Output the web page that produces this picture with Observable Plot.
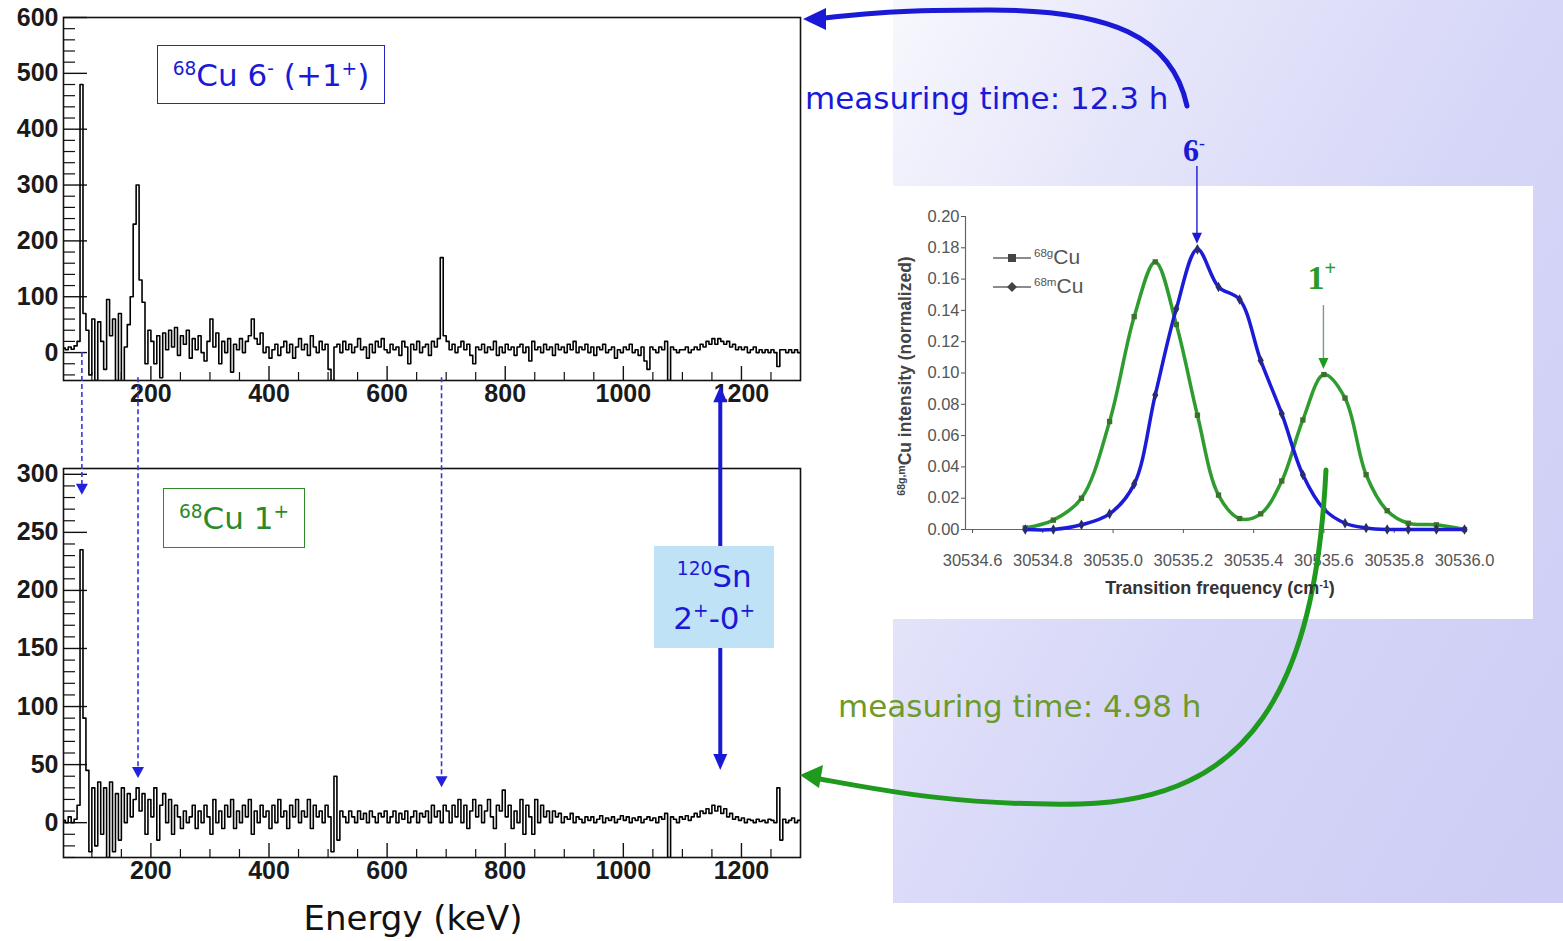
<!DOCTYPE html>
<html>
<head>
<meta charset="utf-8">
<script src="https://cdn.jsdelivr.net/npm/d3@7"></script>
<script src="https://cdn.jsdelivr.net/npm/@observablehq/plot@0.6"></script>
<style>
html,body{margin:0;padding:0;background:#fff;}
#root{position:relative;width:1563px;height:941px;overflow:hidden;background:#fff;}
.t{position:absolute;white-space:nowrap;line-height:1;}
.t sup{font-size:0.6em;vertical-align:0.62em;line-height:0;}
.comic{font-family:"DejaVu Sans",sans-serif;}
</style>
</head>
<body>
<div id="root"></div>
<script>
// ---------------- DATA ----------------
// gamma spectra: counts per 5 keV bin, bins start at 50 keV
const binStart = 50, binWidth = 5;
const countsTop = [
  8,5,10,6,12,20,480,70,40,-40,
  60,-50,55,20,-30,95,30,60,-50,70,
  -60,10,50,100,230,300,130,90,-20,40,
  20,-20,30,-45,35,5,40,10,45,-5,
  30,15,40,-10,25,5,30,0,-15,20,
  60,10,35,-20,20,0,25,-35,15,5,
  25,0,20,30,60,25,15,35,0,10,
  -10,5,15,-5,10,20,0,15,-10,10,
  25,5,15,-5,30,10,0,20,5,15,
  -30,-50,10,15,0,20,5,15,0,10,
  25,5,10,-10,15,0,20,10,25,5,
  0,15,5,10,-5,20,10,-20,15,5,
  20,0,10,15,-5,20,10,25,170,30,
  20,5,15,0,10,20,5,15,-5,-20,
  10,5,15,0,10,5,20,-5,10,0,
  15,5,10,-5,10,15,0,10,-15,20,
  5,10,0,15,5,10,-5,15,5,10,
  0,15,5,20,0,10,5,15,0,10,
  -5,10,5,15,0,5,10,-10,5,0,
  10,5,15,0,5,-5,10,-15,-30,10,
  5,0,10,5,20,-50,10,5,0,5,
  5,10,0,5,10,5,15,10,20,15,
  25,15,25,20,15,20,10,15,5,10,
  5,10,0,5,10,0,5,0,5,0,
  5,0,-25,5,5,0,5,0,5,0
];
const countsBottom = [
  2,0,5,0,3,15,235,90,45,-25,
  30,-20,35,-10,30,-30,35,-25,25,-15,
  30,0,25,5,20,30,10,25,-10,20,
  5,30,-15,15,25,0,20,-10,15,5,
  -5,10,0,5,15,-5,10,0,15,5,
  -10,20,0,10,-5,15,5,20,-5,10,
  0,15,5,20,-10,10,0,15,5,10,
  -5,15,0,20,5,10,-5,15,5,20,
  0,10,5,20,-5,15,5,10,0,15,
  5,-25,40,-15,10,5,0,10,5,0,
  10,3,8,0,10,5,0,8,5,10,
  0,5,10,0,8,3,10,0,5,10,
  0,8,5,10,0,15,5,10,0,15,
  10,0,15,5,20,0,15,-5,10,20,
  5,15,0,10,20,5,-5,15,10,28,
  5,15,-5,10,0,20,-10,15,5,-10,
  20,0,15,5,10,0,10,5,8,0,
  5,3,8,0,5,3,0,5,2,5,
  0,3,6,0,4,2,5,0,3,6,
  2,5,0,4,2,5,0,3,5,2,
  4,0,5,3,8,-30,5,3,0,5,
  3,6,2,5,8,5,10,8,12,8,
  15,10,14,8,12,5,8,3,5,2,
  4,0,3,2,0,3,1,2,0,3,
  2,0,30,-15,3,0,2,4,0,2
];
const energyDomain = [52, 1300];
const energyLabels = [200, 400, 600, 800, 1000, 1200];
const energyMinor = [100,150,250,300,350,450,500,550,650,700,750,850,900,950,1050,1100,1150,1250];
const topYDomain = [-50, 600];
const topYLabels = [0, 100, 200, 300, 400, 500, 600];
const bottomYDomain = [-30, 305];
const bottomYLabels = [0, 50, 100, 150, 200, 250, 300];

// inset: laser scan
const freqs = [30534.75,30534.83,30534.91,30534.99,30535.06,30535.12,30535.18,30535.24,30535.30,30535.36,
               30535.42,30535.48,30535.54,30535.60,30535.66,30535.72,30535.78,30535.84,30535.92,30536.00];
const cu68g = [0.001,0.006,0.020,0.069,0.136,0.171,0.131,0.073,0.022,0.007,
               0.010,0.031,0.070,0.099,0.084,0.035,0.012,0.004,0.003,0.000];
const cu68m = [0.000,0.000,0.003,0.010,0.029,0.086,0.141,0.179,0.155,0.147,
               0.108,0.074,0.035,0.013,0.004,0.001,0.000,0.000,0.000,0.000];
const freqDomain = [30534.58, 30536.0];
const freqLabels = [30534.6,30534.8,30535.0,30535.2,30535.4,30535.6,30535.8,30536.0];
const intensityLabels = [0,0.02,0.04,0.06,0.08,0.10,0.12,0.14,0.16,0.18,0.20];

// gamma lines marked between the spectra (keV)
const markedLines = [
  {energy: 84, fromTop: 0, toBottom: 282},
  {energy: 179, fromTop: -45, toBottom: 38},
  {energy: 693, fromTop: -45, toBottom: 30}
];
const snLine = {energy: 1165, fromTop: -61, toBottom: 45};

// ---------------- LAYOUT ----------------
const root = document.getElementById("root");
function div(style, html) {
  const d = document.createElement("div");
  Object.assign(d.style, {position: "absolute"}, style);
  if (html != null) d.innerHTML = html;
  root.appendChild(d);
  return d;
}
// lavender panel and white inset background
div({left: "893px", top: "0px", width: "670px", height: "903px",
     background: "linear-gradient(120deg, #f7f7fd 0%, #e4e4fa 28%, #d6d6f8 55%, #cdcdf5 100%)"});
div({left: "893px", top: "186px", width: "640px", height: "433px", background: "#fff"});

function spectrum(counts, yDomain, yLabels, minorStep, W, H, m) {
  const data = counts.map((c, i) => ({e: binStart + i * binWidth, c}));
  data.push({e: binStart + counts.length * binWidth, c: counts[counts.length - 1]});
  const kx = (energyDomain[1] - energyDomain[0]) / (W - m.left - m.right);
  const ky = (yDomain[1] - yDomain[0]) / (H - m.top - m.bottom);
  const yMinor = d3.range(Math.ceil(yDomain[0] / minorStep) * minorStep, yDomain[1], minorStep)
    .filter(v => !yLabels.includes(v));
  return Plot.plot({
    width: W, height: H,
    marginTop: m.top, marginRight: m.right, marginBottom: m.bottom, marginLeft: m.left,
    x: {domain: energyDomain},
    y: {domain: yDomain},
    style: {background: "transparent", fontFamily: "'Liberation Sans', Arial, sans-serif",
            fontSize: "25px", fontWeight: "bold", color: "#1a1a1a", overflow: "visible"},
    marks: [
      Plot.ruleY(yLabels, {x1: energyDomain[0], x2: energyDomain[0] + 24 * kx, stroke: "#111", strokeWidth: 1.4}),
      Plot.ruleY(yMinor, {x1: energyDomain[0], x2: energyDomain[0] + 12 * kx, stroke: "#111", strokeWidth: 1.2}),
      Plot.ruleX(energyLabels, {y1: yDomain[0], y2: yDomain[0] + 14 * ky, stroke: "#111", strokeWidth: 1.4}),
      Plot.ruleX(energyMinor, {y1: yDomain[0], y2: yDomain[0] + 8 * ky, stroke: "#111", strokeWidth: 1.2}),
      Plot.line(data, {x: "e", y: "c", curve: "step-after", stroke: "#000", strokeWidth: 1.6, clip: true}),
      Plot.frame({stroke: "#111", strokeWidth: 1.6}),
      Plot.axisY({ticks: yLabels, tickFormat: d => String(d), tickSize: 0, tickPadding: 5, label: null}),
      Plot.axisX({ticks: energyLabels, tickFormat: d => String(d), tickSize: 0, tickPadding: 4, label: null})
    ]
  });
}

const topPlot = spectrum(countsTop, topYDomain, topYLabels, 20, 820, 415,
  {top: 17, right: 20, bottom: 35, left: 63});
Object.assign(topPlot.style, {position: "absolute", left: "0px", top: "0px"});
root.appendChild(topPlot);

const bottomTop = 440;
const bottomPlot = spectrum(countsBottom, bottomYDomain, bottomYLabels, 10, 820, 450,
  {top: 28, right: 20, bottom: 33, left: 63});
Object.assign(bottomPlot.style, {position: "absolute", left: "0px", top: bottomTop + "px"});
root.appendChild(bottomPlot);

// inset
const insetLeft = 893, insetTop = 186;
const insetData = freqs.map((f, i) => ({f, g: cu68g[i], m: cu68m[i]}));
const insetPlot = Plot.plot({
  width: 640, height: 433, marginTop: 30, marginRight: 69, marginBottom: 90, marginLeft: 72,
  x: {domain: freqDomain},
  y: {domain: [0, 0.2]},
  style: {background: "transparent", fontFamily: "'Liberation Sans', Arial, sans-serif",
          fontSize: "16.5px", color: "#555", overflow: "visible"},
  marks: [
    Plot.ruleY([0], {stroke: "#666", strokeWidth: 1.2}),
    Plot.ruleX([freqDomain[0]], {stroke: "#666", strokeWidth: 1.2}),
    Plot.axisY({ticks: intensityLabels, tickFormat: d3.format(".2f"), tickSize: 4, tickPadding: 2, label: null}),
    Plot.axisX({ticks: freqLabels, tickFormat: d3.format(".1f"), tickSize: 4, tickPadding: 21, label: null}),
    Plot.line(insetData, {x: "f", y: "g", curve: "catmull-rom", stroke: "#2f9c2f", strokeWidth: 3.5}),
    Plot.line(insetData, {x: "f", y: "m", curve: "catmull-rom", stroke: "#1c1cd8", strokeWidth: 3.5}),
    Plot.dot(insetData, {x: "f", y: "g", symbol: "square", r: 3, fill: "#3d6f2d"}),
    Plot.dot(insetData, {x: "f", y: "m", symbol: "diamond", r: 3.2, fill: "#2b2b70"})
  ]
});
Object.assign(insetPlot.style, {position: "absolute", left: insetLeft + "px", top: insetTop + "px"});
root.appendChild(insetPlot);

// ---------------- ANNOTATIONS ----------------
const xE = topPlot.scale("x"), yT = topPlot.scale("y"), yB = bottomPlot.scale("y");
const xF = insetPlot.scale("x"), yI = insetPlot.scale("y");
const ov = d3.select(root).append("svg")
  .attr("width", 1563).attr("height", 941)
  .style("position", "absolute").style("left", "0px").style("top", "0px");

const blue = "#1a1ad6", green = "#1f9a1f";
const sup = s => `<sup style='font-size:0.6em;vertical-align:0.6em'>${s}</sup>`;
// dashed marker arrows
for (const m of markedLines) {
  const x = xE.apply(m.energy);
  const y1 = yT.apply(m.fromTop), y2 = yB.apply(m.toBottom) + bottomTop;
  ov.append("line").attr("x1", x).attr("x2", x).attr("y1", y1).attr("y2", y2 - 8)
    .attr("stroke", "#3535e0").attr("stroke-width", 1.6).attr("stroke-dasharray", "5,3");
  ov.append("path").attr("d", `M${x - 6},${y2 - 11}L${x + 6},${y2 - 11}L${x},${y2}Z`).attr("fill", "#2222dd");
}
// 120Sn double arrow
{
  const x = xE.apply(snLine.energy);
  const yTop = yT.apply(snLine.fromTop), yBot = yB.apply(snLine.toBottom) + bottomTop;
  ov.append("line").attr("x1", x).attr("x2", x).attr("y1", yTop + 14).attr("y2", yBot - 14)
    .attr("stroke", blue).attr("stroke-width", 4);
  ov.append("path").attr("d", `M${x - 7},${yTop + 16}L${x + 7},${yTop + 16}L${x},${yTop}Z`).attr("fill", blue);
  ov.append("path").attr("d", `M${x - 7},${yBot - 16}L${x + 7},${yBot - 16}L${x},${yBot}Z`).attr("fill", blue);
  div({left: (x - 66) + "px", top: "546px", width: "120px", height: "102px", background: "#bfe2f7"},
    `<div class="t comic" style="left:0;width:120px;top:15px;text-align:center;font-size:31px;color:${blue}"><sup>120</sup>Sn</div>
     <div class="t comic" style="left:0;width:120px;top:57px;text-align:center;font-size:31px;color:${blue}">2<sup>+</sup>-0<sup>+</sup></div>`);
}
// curved arrows
ov.append("path").attr("d", "M1187,106 C1172,36 1110,10 990,10 S850,16 824,18")
  .attr("fill", "none").attr("stroke", blue).attr("stroke-width", 5).attr("stroke-linecap", "round");
ov.append("path").attr("d", "M803,19 L826,8 L826,30 Z").attr("fill", blue);
ov.append("path").attr("d", "M1326,470 C1315,690 1250,800 1080,804 C960,806 880,790 820,779")
  .attr("fill", "none").attr("stroke", green).attr("stroke-width", 5).attr("stroke-linecap", "round");
ov.append("path").attr("d", "M800,775 L823,765 L819,788 Z").attr("fill", green);

// inset peak arrows
{
  const xb = xF.apply(30535.24) + insetLeft, yb = yI.apply(0.181) + insetTop - 2;
  ov.append("line").attr("x1", xb).attr("x2", xb).attr("y1", 166).attr("y2", yb - 8).attr("stroke", blue).attr("stroke-width", 1.4);
  ov.append("path").attr("d", `M${xb - 5},${yb - 11}L${xb + 5},${yb - 11}L${xb},${yb}Z`).attr("fill", blue);
  div({left: (xb - 14) + "px", top: "134px", fontFamily: "'Liberation Serif',serif", fontWeight: "bold", fontSize: "32px", color: blue, lineHeight: "1"}, "6<sup style='font-size:0.55em;vertical-align:0.7em'>-</sup>");
  const xg = xF.apply(30535.60) + insetLeft, yg = yI.apply(0.101) + insetTop - 2;
  ov.append("line").attr("x1", xg).attr("x2", xg).attr("y1", 305).attr("y2", yg - 8).attr("stroke", "#7f9a7f").attr("stroke-width", 1.4);
  ov.append("path").attr("d", `M${xg - 5},${yg - 11}L${xg + 5},${yg - 11}L${xg},${yg}Z`).attr("fill", green);
  div({left: (xg - 16) + "px", top: "258px", fontFamily: "'Liberation Serif',serif", fontWeight: "bold", fontSize: "34px", color: "#2a9a2a", lineHeight: "1"}, "1<sup style='font-size:0.6em;vertical-align:0.7em'>+</sup>");
}

// inset legend
ov.append("line").attr("x1", 993).attr("x2", 1031).attr("y1", 258).attr("y2", 258).attr("stroke", "#666").attr("stroke-width", 1.5);
ov.append("rect").attr("x", 1008).attr("y", 254).attr("width", 8).attr("height", 8).attr("fill", "#444");
ov.append("line").attr("x1", 993).attr("x2", 1031).attr("y1", 287).attr("y2", 287).attr("stroke", "#666").attr("stroke-width", 1.5);
ov.append("path").attr("d", "M1012,282 L1017,287 L1012,292 L1007,287 Z").attr("fill", "#444");
div({left: "1034px", top: "246px", fontFamily: "'Liberation Sans',Arial,sans-serif", fontSize: "21px", color: "#555", lineHeight: "1", whiteSpace: "nowrap"}, "<sup style='font-size:0.55em;vertical-align:0.6em'>68g</sup>Cu");
div({left: "1034px", top: "275px", fontFamily: "'Liberation Sans',Arial,sans-serif", fontSize: "21px", color: "#555", lineHeight: "1", whiteSpace: "nowrap"}, "<sup style='font-size:0.55em;vertical-align:0.6em'>68m</sup>Cu");

// inset axis titles
div({left: "905px", top: "376px", transform: "translate(-50%,-50%) rotate(-90deg)", fontFamily: "'Liberation Sans',Arial,sans-serif", fontWeight: "bold", fontSize: "17.5px", color: "#444", whiteSpace: "nowrap", lineHeight: "1"},
  sup("68g,m") + "Cu intensity (normalized)");
div({left: "1220px", top: "588px", transform: "translate(-50%,-50%)", fontFamily: "'Liberation Sans',Arial,sans-serif", fontWeight: "bold", fontSize: "18px", color: "#333", whiteSpace: "nowrap", lineHeight: "1"},
  "Transition frequency (cm" + sup("-1") + ")");

// texts
div({left: "805px", top: "83px", fontSize: "31px", color: blue, whiteSpace: "nowrap", lineHeight: "1"}, "measuring time: 12.3 h").className = "comic";
div({left: "838px", top: "691px", fontSize: "31px", color: "#6e9a2a", whiteSpace: "nowrap", lineHeight: "1"}, "measuring time: 4.98 h").className = "comic";
div({left: "413px", top: "918px", transform: "translate(-50%,-50%)", fontSize: "34px", color: "#111", whiteSpace: "nowrap", lineHeight: "1"}, "Energy (keV)").className = "comic";

// boxes
div({left: "157px", top: "45px", width: "226px", height: "57px", border: "1.5px solid #2525c8", color: blue,
     fontSize: "31px", display: "flex", alignItems: "center", justifyContent: "center", whiteSpace: "nowrap"},
  "<span>" + sup("68") + "Cu 6" + sup("-") + " (+1" + sup("+") + ")</span>").className = "comic";
div({left: "163px", top: "488px", width: "140px", height: "58px", border: "1.5px solid #2a8a2a", color: "#2a8a2a",
     fontSize: "31px", display: "flex", alignItems: "center", justifyContent: "center", whiteSpace: "nowrap"},
  "<span>" + sup("68") + "Cu 1" + sup("+") + "</span>").className = "comic";
</script>
</body>
</html>
